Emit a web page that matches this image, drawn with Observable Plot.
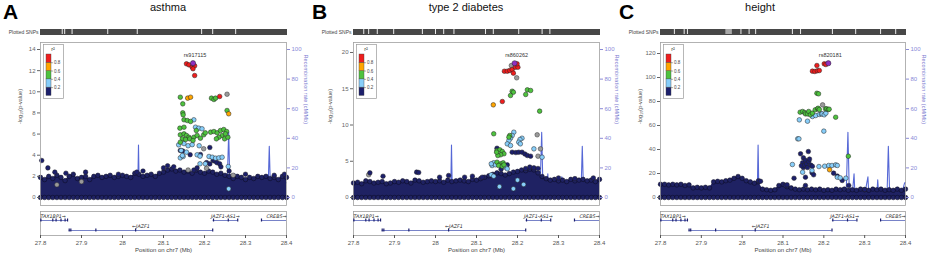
<!DOCTYPE html>
<html><head><meta charset="utf-8">
<script src="https://cdn.jsdelivr.net/npm/d3@7"></script>
<script src="https://cdn.jsdelivr.net/npm/@observablehq/plot@0.6"></script>
<style>
body{margin:0;background:#fff;font-family:"Liberation Sans",Arial,sans-serif;}
#root{position:relative;width:927px;height:256px;overflow:hidden;background:#fff;}
.letter{position:absolute;font-weight:bold;font-size:21px;line-height:24px;color:#000;}
.title{position:absolute;font-size:11px;line-height:13px;color:#111;transform:translateX(-50%);white-space:nowrap;}
svg{overflow:visible}
</style></head><body><div id="root"></div>
<script>
// ---------- data ----------
const xTicks = [27.8, 27.9, 28.0, 28.1, 28.2, 28.3, 28.4];
const yTicksA = [0, 2, 4, 6, 8, 10, 12, 14];
const yTicksB = [0, 5, 10, 15, 20];
const yTicksC = [0, 20, 40, 60, 80, 100, 120];
const recombTicks = [0, 20, 40, 60, 80, 100];
const legendBreaks = [0, 0.2, 0.4, 0.6, 0.8, 1];

// dense band of low-LD SNPs: upper edge sampled along the region
const bandPos = [27.80,27.81,27.82,27.83,27.84,27.85,27.86,27.87,27.88,27.89,27.90,27.91,27.92,27.93,27.94,27.95,27.96,27.97,27.98,27.99,28.00,28.01,28.02,28.03,28.04,28.05,28.06,28.07,28.08,28.09,28.10,28.11,28.12,28.13,28.14,28.15,28.16,28.17,28.18,28.19,28.20,28.21,28.22,28.23,28.24,28.25,28.26,28.27,28.28,28.29,28.30,28.31,28.32,28.33,28.34,28.35,28.36,28.37,28.38,28.39,28.40];
const bandTopA = [1.9,1.7,2.0,1.8,2.1,1.9,1.6,2.0,2.2,1.8, 1.9,2.0,1.7,2.0,2.1,1.9,2.0,2.1,1.9,2.0, 2.1,2.0,1.9,2.3,2.2,2.0,2.1,2.2,2.0,2.3, 2.4,2.6,2.7,2.5,2.6,2.4,2.5,2.3,2.6,2.4, 2.3,2.5,2.4,2.2,2.3,2.1,2.0,1.8,2.0,1.9, 1.7,1.9,1.8,2.0,1.9,2.0,1.8,1.9,1.7,2.0, 1.9];
const bandTopB = [2.0,2.1,1.9,2.3,2.2,2.0,2.1,2.2,1.9,2.0, 2.2,2.1,2.3,2.2,2.0,2.4,2.3,2.1,2.2,2.3, 2.2,2.3,2.1,2.4,2.2,2.3,2.4,2.3,2.2,2.5, 2.4,2.6,2.8,3.0,3.2,3.4,3.3,3.1,3.3,3.5, 3.6,3.8,3.7,3.9,3.8,3.4,2.9,2.6,2.4,2.5, 2.3,2.4,2.2,2.5,2.3,2.4,2.5,2.3,2.4,2.2, 2.5];
const bandTopC = [11,11,10.5,11,10.5,11,10,10.5,8,8.5, 8,8.5,8,13,13.5,13,14,14.5,16,17.5, 16,14,13,12,13,7,6.5,6,6.5,10, 11,9,8,7,6.5,7,6.5,7,6.5,7, 6,6.5,6,7,6.5,7,6,6.5,6,7, 6.5,6,7,6.5,7,6,6.5,6,7,6, 7];

// recombination rate (cM/Mb)
const recombPos = [27.800,27.830,27.860,27.900,27.950,28.000,28.030,28.037,28.039,28.041,28.045,28.100,28.150,28.200,28.240,28.255,28.259,28.262,28.270,28.274,28.276,28.300,28.308,28.310,28.330,28.332,28.334,28.355,28.358,28.361,28.390,28.398,28.400];
const recombRate = [0.5,1.0,0.8,0.5,1.0,1.5,2.0,3.0,35.5,3.0, 1.0,0.8,1.0,1.5,2.0,5.0,44.0,8.0,3.0,16.0, 3.0,2.0,14.0,2.0,3.0,12.0,3.0,4.0,34.6,4.0, 2.0,10.0,10.0];

// SNPs with LD (position Mb, -log10 p, r2)
const ldA = [
 [27.803,3.50,0.1],[27.818,2.80,0.1],[27.835,2.40,0.1],[27.862,2.30,0.1],[27.910,2.40,0.1],[27.990,2.20,0.1],[28.035,2.40,0.1],[28.050,2.50,0.1],[28.100,2.80,0.1],[28.110,3.00,0.1],[28.125,2.90,0.1],[28.141,4.45,0.1],[28.147,4.40,0.1],[28.165,4.05,0.1],[28.174,2.60,0.1],[28.182,2.80,0.1],[28.190,4.07,0.1],[28.205,3.30,0.1],[28.213,4.73,0.1],[28.213,3.18,0.1],[28.221,3.50,0.1],[28.225,3.45,0.1],[28.230,3.30,0.1],[28.237,3.18,0.1],[28.240,2.90,0.1],[28.260,2.50,0.1],[28.300,2.20,0.1],[28.370,2.10,0.1],[28.395,2.20,0.1],
 [28.141,3.75,0.3],[28.148,3.88,0.3],[28.156,4.29,0.3],[28.150,5.10,0.3],[28.160,4.90,0.3],[28.170,5.00,0.3],[28.187,4.90,0.3],[28.174,7.35,0.3],[28.178,6.65,0.3],[28.186,6.56,0.3],[28.194,6.50,0.3],[28.137,4.98,0.3],[28.143,4.45,0.3],[28.146,3.97,0.3],[28.182,4.04,0.3],[28.189,3.91,0.3],[28.211,3.88,0.3],[28.219,3.81,0.3],[28.227,3.72,0.3],[28.235,3.75,0.3],[28.243,3.81,0.3],[28.189,3.19,0.3],[28.202,3.19,0.3],[28.258,2.93,0.3],[28.259,0.82,0.3],
 [28.141,9.49,0.5],[28.147,8.86,0.5],[28.217,9.40,0.5],[28.223,9.27,0.5],[28.227,9.40,0.5],[28.255,8.23,0.5],[28.147,8.01,0.5],[28.148,7.82,0.5],[28.150,7.35,0.5],[28.158,7.28,0.5],[28.166,7.19,0.5],[28.140,6.56,0.5],[28.150,6.65,0.5],[28.180,6.34,0.5],[28.141,5.93,0.5],[28.150,6.02,0.5],[28.156,5.87,0.5],[28.162,5.70,0.5],[28.146,5.55,0.5],[28.154,5.49,0.5],[28.164,5.55,0.5],[28.141,5.23,0.5],[28.174,5.70,0.5],[28.182,5.87,0.5],[28.190,5.61,0.5],[28.198,5.93,0.5],[28.202,6.12,0.5],[28.172,5.39,0.5],[28.215,6.18,0.5],[28.223,6.24,0.5],[28.231,6.12,0.5],[28.239,6.34,0.5],[28.247,6.43,0.5],[28.254,6.24,0.5],[28.243,5.87,0.5],[28.235,5.70,0.5],[28.229,5.55,0.5],[28.249,5.55,0.5],[28.257,5.70,0.5],[28.251,6.02,0.5],
 [28.159,9.40,0.7],[28.166,9.49,0.7],[28.259,7.92,0.7],
 [28.156,12.65,0.9],[28.162,12.55,0.9],[28.170,12.33,0.9],[28.176,12.46,0.9],[28.172,12.18,0.9],[28.176,11.54,0.9],[28.237,9.56,0.9]
];
const grayA = [[28.255,9.77],[28.198,4.61],[28.205,2.77],[28.160,2.60],[28.270,2.10],[27.840,1.20],[27.900,1.50]];
const indexA = [28.172, 12.71];

const ldB = [
 [27.840,3.40,0.1],[27.872,2.94,0.1],[27.954,3.50,0.1],[27.959,3.45,0.1],[28.010,2.80,0.1],[28.032,3.03,0.1],[28.071,2.80,0.1],[28.090,2.94,0.1],[28.114,2.80,0.1],[28.150,6.80,0.1],[28.160,3.90,0.1],[28.175,4.50,0.1],[28.187,6.25,0.1],[28.196,6.20,0.1],[28.203,6.25,0.1],[28.211,6.25,0.1],[28.218,6.00,0.1],[28.220,4.00,0.1],[28.224,5.79,0.1],[28.230,4.20,0.1],[28.232,5.70,0.1],[28.240,4.10,0.1],[28.250,4.00,0.1],[28.300,2.70,0.1],[28.340,2.60,0.1],[28.385,2.70,0.1],
 [28.191,9.01,0.3],[28.187,8.55,0.3],[28.183,8.18,0.3],[28.179,7.86,0.3],[28.211,8.18,0.3],[28.206,8.00,0.3],[28.203,7.63,0.3],[28.207,7.40,0.3],[28.175,7.40,0.3],[28.183,7.17,0.3],[28.240,6.71,0.3],[28.260,5.56,0.3],[28.142,4.79,0.3],[28.138,4.41,0.3],[28.146,4.51,0.3],[28.136,4.65,0.3],[28.171,4.18,0.3],[28.175,3.96,0.3],[28.136,3.13,0.3],[28.142,2.94,0.3],[28.200,2.40,0.3],[28.156,1.50,0.3],[28.190,1.20,0.3],[28.215,1.80,0.3],
 [28.142,8.79,0.5],[28.181,8.55,0.5],[28.179,8.32,0.5],[28.150,6.48,0.5],[28.157,6.57,0.5],[28.163,6.34,0.5],[28.167,6.03,0.5],[28.159,5.89,0.5],[28.152,5.79,0.5],[28.149,6.25,0.5],[28.150,4.87,0.5],[28.159,4.65,0.5],[28.165,4.79,0.5],[28.154,4.41,0.5],[28.163,4.32,0.5],[28.167,4.51,0.5],[28.254,11.91,0.5],[28.187,14.66,0.5],[28.190,14.52,0.5],[28.183,14.07,0.5],[28.224,14.85,0.5],[28.232,14.76,0.5],[28.220,14.21,0.5],
 [28.141,12.78,0.7],
 [28.163,13.24,0.9],[28.168,17.42,0.9],[28.175,17.42,0.9],[28.181,17.52,0.9],[28.187,17.66,0.9],[28.190,17.15,0.9],[28.195,17.97,0.9],[28.201,17.97,0.9],[28.199,18.44,0.9]
];
const grayB = [[28.185,18.20],[28.198,16.51],[28.248,8.65],[28.256,6.71],[28.250,5.70],[27.837,3.13]];
const indexB = [28.193, 18.52];

const ldC = [
 [28.040,14.0,0.1],[28.045,13.5,0.1],[28.106,10.0,0.1],[28.110,10.6,0.1],[28.127,16.1,0.1],[28.143,36.4,0.1],[28.162,38.3,0.1],[28.150,33.0,0.1],[28.148,29.0,0.1],[28.150,25.0,0.1],[28.145,26.5,0.1],[28.153,27.0,0.1],[28.155,31.0,0.1],[28.158,28.0,0.1],[28.160,25.0,0.1],[28.163,30.0,0.1],[28.165,32.0,0.1],[28.168,27.0,0.1],[28.172,26.0,0.1],[28.155,16.9,0.1],[28.155,10.0,0.1],[28.171,20.6,0.1],[28.175,18.9,0.1],[28.224,20.3,0.1],[28.233,17.8,0.1],[28.245,14.2,0.1],[28.261,10.0,0.1],[28.300,6.7,0.1],
 [28.123,27.5,0.3],[28.148,21.1,0.3],[28.171,22.5,0.3],[28.188,25.8,0.3],[28.202,26.1,0.3],[28.212,26.7,0.3],[28.220,26.7,0.3],[28.229,27.2,0.3],[28.233,26.7,0.3],[28.233,16.9,0.3],[28.240,16.4,0.3],[28.254,16.1,0.3],[28.136,48.9,0.3],[28.139,48.9,0.3],[28.200,55.3,0.3],[28.140,64.7,0.3],[28.160,63.6,0.3],[28.172,67.5,0.3],[28.180,68.3,0.3],[28.189,69.2,0.3],[28.194,69.7,0.3],[28.196,69.7,0.3],[28.201,68.9,0.3],[28.205,70.3,0.3],
 [28.260,34.4,0.5],[28.229,66.9,0.5],[28.142,71.1,0.5],[28.148,71.7,0.5],[28.153,70.8,0.5],[28.155,69.7,0.5],[28.160,69.7,0.5],[28.163,71.7,0.5],[28.167,68.9,0.5],[28.172,70.3,0.5],[28.179,73.1,0.5],[28.185,73.9,0.5],[28.186,74.4,0.5],[28.189,73.3,0.5],[28.204,73.9,0.5],[28.207,73.9,0.5],[28.211,73.3,0.5],[28.213,73.6,0.5],[28.183,86.9,0.5],[28.187,86.4,0.5],
 [28.214,23.1,0.7],
 [28.172,105.3,0.9],[28.178,105.0,0.9],[28.184,105.6,0.9],[28.189,105.8,0.9],[28.183,110.0,0.9],[28.201,111.4,0.9],[28.205,110.8,0.9]
];
const grayC = [[28.197,77.2]];
const indexC = [28.211, 111.9];

// gaps in the "Plotted SNPs" track
const snpGapsA = [27.853, 27.859, 27.877, 27.964, 28.036, 28.193, 28.220, 28.276];
const snpGapsB = [27.825, 27.837, 27.858, 27.898, 27.968, 28.000, 28.020, 28.045, 28.122, 28.141, 28.203, 28.260, 28.279];
const snpGapsC = [27.834, 27.858, 27.866, 27.997, 28.017, 28.033, 28.123, 28.143, 28.221, 28.278, 28.339, 28.376];
const snpLightC = [[27.960, 27.976]];

// genes
const geneName = ["TAX1BP1", "JAZF1", "JAZF1-AS1", "CREB5"];
const geneStart = [27.780, 27.870, 28.221, 28.339];
const geneEnd = [27.866, 28.220, 28.281, 28.866];
const geneStrand = ["+", "-", "+", "+"];
const geneRow = [1, 2, 1, 1];
const geneExons = [[27.801, 27.830, 27.838, 27.850, 27.860, 27.866], [27.870, 27.874, 27.935, 28.032, 28.220], [28.222, 28.258, 28.281], [28.339]];

// ---------- layout ----------
const panels = [
  {id:"A", title:"asthma", left:0, width:309, mL:40, mR:23, yDomain:[-0.757,14.663], yTicks:yTicksA, k:0.14, ld:ldA, gray:grayA, index:indexA, indexName:"rs917115", band:bandTopA, gaps:snpGapsA, light:[], titleX:168, letterX:3, yLabDx:-20, rLabDx:19},
  {id:"B", title:"type 2 diabetes", left:310, width:309, mL:43, mR:20, yDomain:[-1.103,21.379], yTicks:yTicksB, k:0.2041, ld:ldB, gray:grayB, index:indexB, indexName:"rs860262", band:bandTopB, gaps:snpGapsB, light:[], titleX:466, letterX:312, yLabDx:-23, rLabDx:17.5},
  {id:"C", title:"height", left:617, width:310, mL:43, mR:22, yDomain:[-6.667,129.17], yTicks:yTicksC, k:1.2333, ld:ldC, gray:grayC, index:indexC, indexName:"rs820181", band:bandTopC, gaps:snpGapsC, light:snpLightC, titleX:760, letterX:619, yLabDx:-20, rLabDx:18}
];

const root = document.getElementById("root");
function place(node, left, top) {
  node.style.position = "absolute";
  node.style.left = left + "px";
  node.style.top = top + "px";
  root.appendChild(node);
}
const baseStyle = {fontFamily:"'Liberation Sans', Arial, sans-serif", fontSize:"6px", background:"transparent", overflow:"visible", color:"#555"};
const ldColors = ["#1c1f6c", "#87cefa", "#4ec23e", "#ffa500", "#ee1d1d"];
const colorScale = {type:"threshold", domain:[0.2, 0.4, 0.6, 0.8], range:ldColors};
const navy = "#1f2263";
const X = [27.8, 28.4];

const recomb = recombPos.map((x, i) => ({x, rate: recombRate[i]}));
const genes = geneName.map((name, i) => {
  const s = Math.max(geneStart[i], X[0]), e = Math.min(geneEnd[i], X[1]);
  const anchor = geneStart[i] < X[0] ? "start" : geneEnd[i] > X[1] ? "end" : "middle";
  const lx = anchor === "start" ? s : anchor === "end" ? e : (s + e) / 2;
  const label = geneStrand[i] === "+" ? name + "\u2192" : "\u2190" + name;
  return {name, s, e, row: geneRow[i], anchor, lx, label};
});
const exons = geneExons.flatMap((list, i) => list.map(pos => ({pos, row: geneRow[i]})));
const legendBins = legendBreaks.slice(0, -1).map((lo, i) => ({lo, hi: legendBreaks[i + 1]}));

panels.forEach(p => {
  // letter and title
  const L = document.createElement("div"); L.className = "letter"; L.textContent = p.id; place(L, p.letterX, 0);
  const T = document.createElement("div"); T.className = "title"; T.textContent = p.title; place(T, p.titleX, 1);

  // Plotted SNPs track
  const snp = Plot.plot({
    width: p.width, height: 10, marginLeft: p.mL, marginRight: p.mR, marginTop: 3, marginBottom: 2,
    x: {domain: X, axis: null}, y: {axis: null}, style: baseStyle,
    marks: [
      Plot.frame({fill: "#474747", stroke: "#474747"}),
      Plot.rect(p.light, {x1: d => d[0], x2: d => d[1], fill: "#a8a8a8"}),
      Plot.ruleX(p.gaps, {stroke: "white", strokeWidth: 0.9}),
      Plot.text(["Plotted SNPs"], {frameAnchor: "left", dx: -2, textAnchor: "end", fontSize: 5, fill: "#444"})
    ]
  });
  place(snp, p.left, 26);

  const band = bandPos.map((x, i) => ({x, top: p.band[i]}));
  const k = p.k;
  const main = Plot.plot({
    width: p.width, height: 170, marginLeft: p.mL, marginRight: p.mR, marginTop: 4, marginBottom: 3,
    x: {domain: X, axis: null},
    y: {domain: p.yDomain, axis: null},
    color: colorScale,
    style: baseStyle,
    marks: [
      Plot.line(recomb, {x: "x", y: d => d.rate * k, stroke: "#5668d6", strokeWidth: 1.1}),
      Plot.areaY(band, {x: "x", y1: 0, y2: "top", fill: navy}),
      Plot.dot(band, {x: "x", y: 0, r: 2.3, fill: navy, stroke: "#0a0a1e", strokeWidth: 0.5}),
      Plot.dot(band, {x: "x", y: "top", r: 2.3, fill: navy, stroke: "#0a0a1e", strokeWidth: 0.5}),
      Plot.dot(p.gray, {x: d => d[0], y: d => d[1], r: 2.3, fill: "#9a9a9a", stroke: "#333", strokeWidth: 0.5}),
      Plot.dot(p.ld, {x: d => d[0], y: d => d[1], fill: d => d[2], r: 2.3, stroke: "#222", strokeWidth: 0.5, sort: d => d[2]}),
      Plot.dot([p.index], {x: d => d[0], y: d => d[1], r: 2.6, fill: "#8e30c0", stroke: "#222", strokeWidth: 0.5}),
      Plot.text([p.index], {x: d => d[0], y: d => d[1], text: () => p.indexName, dy: -8, dx: 2, fontSize: 5.5, fill: "#333"}),
      Plot.axisY({anchor: "left", ticks: p.yTicks, tickSize: 3, tickPadding: 2, label: null, color: "#666"}),
      Plot.axisY({anchor: "right", ticks: recombTicks.map(v => v * k), tickFormat: d => Math.round(d / k), tickSize: 3, tickPadding: 2, label: null, color: "#8a8ad8"}),
      Plot.frame({stroke: "#a0a0a0", strokeWidth: 0.8}),
      Plot.text(["-log\u2081\u2080(p-value)"], {frameAnchor: "left", dx: p.yLabDx, rotate: -90, fill: "#555", fontSize: 5.5}),
      Plot.text(["Recombination rate (cM/Mb)"], {frameAnchor: "right", dx: p.rLabDx, rotate: 90, fill: "#7b7bd0", fontSize: 5.5})
    ]
  });
  place(main, p.left, 38);

  // r2 legend
  const leg = Plot.plot({
    width: 20, height: 54, margin: 0,
    x: {domain: [0, 20], range: [0, 20], axis: null},
    y: {domain: [0, 1], range: [51.4, 10], axis: null},
    color: colorScale, style: baseStyle,
    marks: [
      Plot.frame({fill: "white", stroke: "#999", strokeWidth: 0.7}),
      Plot.rect(legendBins, {x1: 3, x2: 8, y1: "lo", y2: "hi", fill: d => (d.lo + d.hi) / 2, stroke: "#444", strokeWidth: 0.4}),
      Plot.ruleY(legendBreaks.slice(1, -1), {x1: 8, x2: 10, stroke: "#555", strokeWidth: 0.5}),
      Plot.text(legendBreaks.slice(1, -1), {x: 10.6, y: d => d, text: d => d.toFixed(1), textAnchor: "start", fontSize: 4.5, fill: "#444"}),
      Plot.text(["r\u00b2"], {x: 9.5, y: 1, dy: -5, fontSize: 5.5, fill: "#333"})
    ]
  });
  place(leg, p.left + p.mL + 3, 44);

  // gene track with x axis
  const gene = Plot.plot({
    width: p.width, height: 48, marginLeft: p.mL, marginRight: p.mR, marginTop: 3, marginBottom: 21,
    x: {domain: X},
    y: {domain: [0.1, 2.5], reverse: true, axis: null},
    style: baseStyle,
    marks: [
      Plot.frame({stroke: "#a0a0a0", strokeWidth: 0.8}),
      Plot.ruleY(genes, {x1: "s", x2: "e", y: "row", stroke: "#3d4db0", strokeWidth: 0.7}),
      Plot.ruleX(exons, {x: "pos", y1: d => d.row - 0.15, y2: d => d.row + 0.15, stroke: "#1c1f6c", strokeWidth: 1.2}),
      ...["start", "middle", "end"].map(a => Plot.text(genes.filter(g => g.anchor === a), {x: "lx", y: "row", text: "label", dy: -4.2, textAnchor: a, fontStyle: "italic", fontSize: 4.8, fontFamily: "'DejaVu Sans', sans-serif", fill: "#222"})),
      Plot.axisX({ticks: xTicks, tickSize: 3, tickPadding: 2, tickFormat: d => String(+d.toFixed(1)), label: null, color: "#555"}),
      Plot.text(["Position on chr7 (Mb)"], {frameAnchor: "bottom", dy: 16.5, fontSize: 6, fill: "#444"})
    ]
  });
  place(gene, p.left, 208);
});
</script></body></html>
